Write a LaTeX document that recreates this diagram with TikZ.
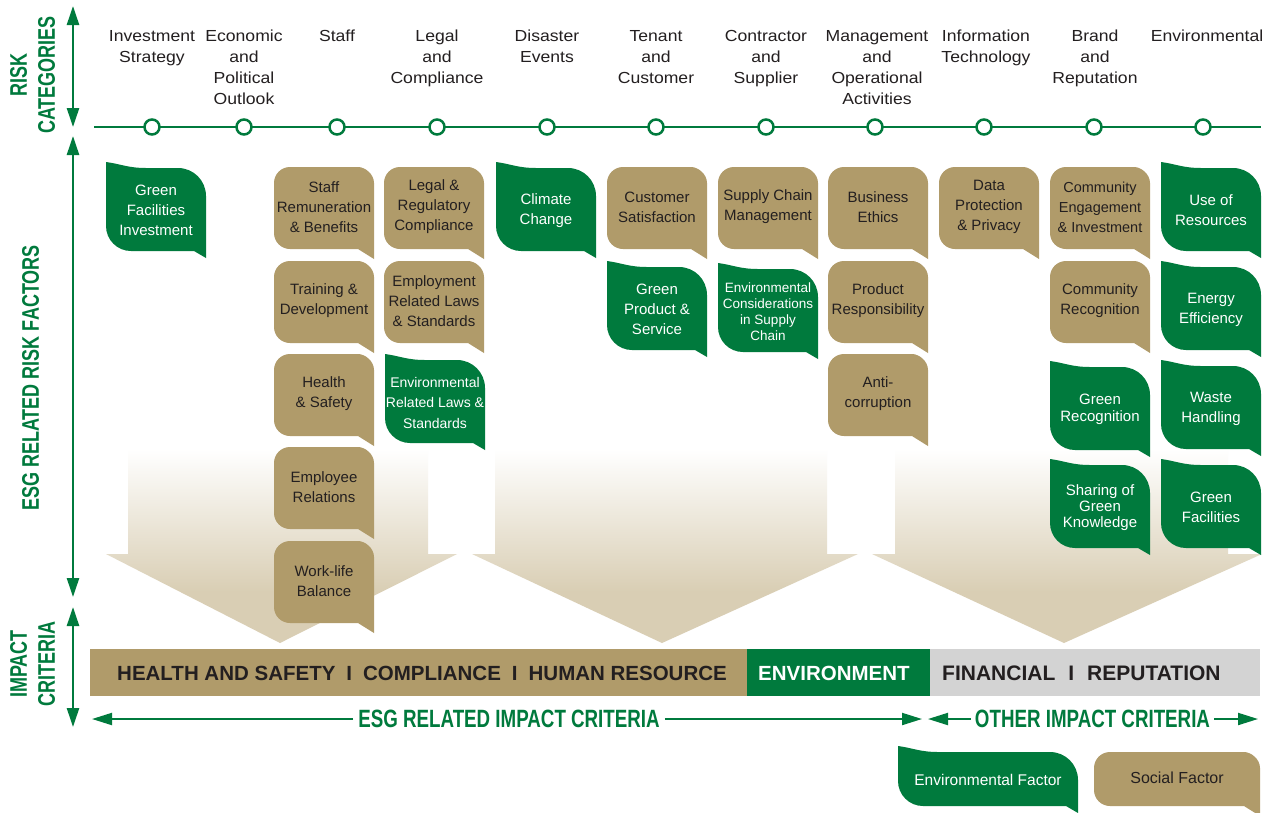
\documentclass[tikz,border=0pt]{standalone}
\usepackage{fontspec}
\setmainfont{Liberation Sans}
\newfontfamily\headfont{Liberation Sans}[FakeStretch=1.1]
\newfontfamily\condfont{Liberation Sans}[FakeStretch=0.75]
\usetikzlibrary{arrows.meta}
\definecolor{esggreen}{RGB}{0,122,61}
\definecolor{esggold}{RGB}{176,155,106}
\definecolor{esgbeige}{RGB}{217,206,180}
\definecolor{esggray}{RGB}{211,211,211}
\definecolor{esgdark}{RGB}{35,31,32}
\pgfdeclareverticalshading{beigefade}{100bp}{color(0bp)=(esgbeige); color(38bp)=(esgbeige); color(74bp)=(white); color(100bp)=(white)}
\newcommand{\esgsep}{\hspace{11pt}I\hspace{11pt}}
% gold speech-bubble: name, L, T, W, H, text style, text
\newcommand{\goldshape}[7]{%
  \fill[esggold] ({#2+#4},{#3+#5+10}) -- ({#2+#4},{#3+16})
    .. controls ({#2+#4},{#3+7.16}) and ({#2+#4-8.84},{#3}) .. ({#2+#4-16},{#3})
    -- ({#2+16},{#3}) .. controls ({#2+7.16},{#3}) and ({#2},{#3+7.16}) .. ({#2},{#3+16})
    -- ({#2},{#3+#5-16}) .. controls ({#2},{#3+#5-7.16}) and ({#2+7.16},{#3+#5}) .. ({#2+16},{#3+#5})
    -- ({#2+#4-16},{#3+#5}) -- cycle;
  \node[goldtext,#6] (#1) at ({#2+#4/2},{#3+#5/2-1}) {#7};
}
% green leaf: name, L, T, W, H, text style, text
\newcommand{\greenshape}[7]{%
  \fill[esggreen] ({#2},{#3}) .. controls ({#2+15},{#3+2}) and ({#2+22},{#3+6}) .. ({#2+40},{#3+6})
    -- ({#2+#4-28},{#3+6}) .. controls ({#2+#4-12.5},{#3+6}) and ({#2+#4},{#3+18.5}) .. ({#2+#4},{#3+34})
    -- ({#2+#4},{#3+#5+7}) -- ({#2+#4-12},{#3+#5})
    -- ({#2+25},{#3+#5}) .. controls ({#2+11.2},{#3+#5}) and ({#2},{#3+#5-11.2}) .. ({#2},{#3+#5-25})
    -- cycle;
  \node[greentext,#6] (#1) at ({#2+#4/2},{#3+(#5+6)/2+1}) {#7};
}
\tikzset{
  goldtext/.style={text=esgdark, font=\fontsize{15}{20}\selectfont, align=center, inner sep=0pt},
  greentext/.style={text=white, font=\fontsize{15}{20}\selectfont, align=center, inner sep=0pt},
  headtxt/.style={text=esgdark, font=\headfont\fontsize{16}{21}\selectfont, align=center, anchor=north, inner sep=0pt},
  catcircle/.style={circle, draw=esggreen, line width=2.5pt, fill=white, minimum size=15pt, inner sep=0pt},
  axisarrow/.style={draw=esggreen, line width=2.5pt, {Triangle[length=19pt,width=12pt]}-{Triangle[length=19pt,width=12pt]}},
  sidelabel/.style={text=esggreen, font=\condfont\bfseries\fontsize{24}{28}\selectfont, align=center, rotate=90, inner sep=0pt},
  critlabel/.style={text=esggreen, font=\condfont\bfseries\fontsize{25}{30}\selectfont, inner sep=0pt},
  critarrow/.style={draw=esggreen, line width=2pt, -{Triangle[length=20pt,width=12pt]}},
  barseg/.style={minimum height=47pt, inner sep=0pt, anchor=north west},
  bartext/.style={font=\bfseries\fontsize{20.5}{24}\selectfont, anchor=west, inner sep=0pt},
}
\begin{document}
\begin{tikzpicture}[x=1pt,y=-1pt]
\useasboundingbox (0,0) rectangle (1279,812);
\fill[white] (0,0) rectangle (1279,812);

% big background arrows
\shade[shading=beigefade] (128,445) -- (428,445) -- (428,554) -- (457,554) -- (280,643) -- (106,554) -- (128,554) -- cycle;
\shade[shading=beigefade] (495,445) -- (827,445) -- (827,554) -- (858,554) -- (662,643) -- (472,554) -- (495,554) -- cycle;
\shade[shading=beigefade] (895,445) -- (1228,445) -- (1228,554) -- (1262,554) -- (1064,643) -- (872,554) -- (895,554) -- cycle;

% side axes
\coordinate (a1t) at (73,6);   \coordinate (a1b) at (73,127);
\coordinate (a2t) at (73,136); \coordinate (a2b) at (73,597);
\coordinate (a3t) at (73,607); \coordinate (a3b) at (73,727);
\draw[axisarrow] (a1t) -- (a1b);
\draw[axisarrow] (a2t) -- (a2b);
\draw[axisarrow] (a3t) -- (a3b);
\node[sidelabel] (lblrisk) at (32.5,75) {RISK\\CATEGORIES};
\node[sidelabel] (lblesg) at (30.5,378) {ESG RELATED RISK FACTORS};
\node[sidelabel] (lblimp) at (32.5,664) {IMPACT\\CRITERIA};

% category line
\coordinate (tl0) at (94,127); \coordinate (tl1) at (1261,127);
\draw[esggreen, line width=2.5pt] (tl0) -- (tl1);
\foreach \n/\x in {1/152,2/244,3/337,4/437,5/547,6/656,7/766,8/875,9/984,10/1094,11/1203}
  \node[catcircle] (c\n) at (\x,127) {};

% headers
\node[headtxt] (h1) at (152,26.3) {\strut Investment\\Strategy};
\node[headtxt] (h2) at (244,26.3) {\strut Economic\\and\\Political\\Outlook};
\node[headtxt] (h3) at (337,26.3) {\strut Staff};
\node[headtxt] (h4) at (437,26.3) {\strut Legal\\and\\Compliance};
\node[headtxt] (h5) at (547,26.3) {\strut Disaster\\Events};
\node[headtxt] (h6) at (656,26.3) {\strut Tenant\\and\\Customer};
\node[headtxt] (h7) at (766,26.3) {\strut Contractor\\and\\Supplier};
\node[headtxt] (h8) at (877,26.3) {\strut Management\\and\\Operational\\Activities};
\node[headtxt] (h9) at (986,26.3) {\strut Information\\Technology};
\node[headtxt] (h10) at (1095,26.3) {\strut Brand\\and\\Reputation};
\node[headtxt] (h11) at (1207,26.3) {\strut Environmental};

% column 1
\greenshape{gfi}{106}{162}{100}{89}{}{Green\\Facilities\\Investment}
% column 3
\goldshape{srb}{274}{167}{100}{82}{}{Staff\\Remuneration\\\& Benefits}
\goldshape{trd}{274}{261}{100}{82}{}{Training \&\\Development}
\goldshape{hs}{274}{354}{100}{82}{}{Health\\\& Safety}
\goldshape{er}{274}{447}{100}{82}{}{Employee\\Relations}
\goldshape{wlb}{274}{541}{100}{82}{}{Work-life\\Balance}
% column 4
\goldshape{lrc}{384}{167}{100}{82}{}{Legal \&\\Regulatory\\Compliance}
\goldshape{erl}{384}{261}{100}{82}{}{Employment\\Related Laws\\\& Standards}
\greenshape{envl}{385}{354}{100}{89}{font=\fontsize{14}{20.5}\selectfont}{Environmental\\Related Laws \&\\Standards}
% column 5
\greenshape{cc}{496}{162}{100}{89}{}{Climate\\Change}
% column 6
\goldshape{cs}{607}{167}{100}{82}{}{Customer\\Satisfaction}
\greenshape{gps}{607}{261}{100}{89}{}{Green\\Product \&\\Service}
% column 7
\goldshape{scm}{718}{167}{100}{82}{}{Supply Chain\\Management}
\greenshape{ecs}{718}{263}{100}{89}{font=\fontsize{13.5}{16}\selectfont}{Environmental\\Considerations\\in Supply\\Chain}
% column 8
\goldshape{be}{828}{167}{100}{82}{}{Business\\Ethics}
\goldshape{pr}{828}{261}{100}{82}{}{Product\\Responsibility}
\goldshape{ac}{828}{354}{100}{82}{}{Anti-\\corruption}
% column 9
\goldshape{dpp}{939}{167}{100}{82}{}{Data\\Protection\\\& Privacy}
% column 10
\goldshape{cei}{1050}{167}{100}{82}{font=\fontsize{14.5}{20}\selectfont}{Community\\Engagement\\\& Investment}
\goldshape{cr}{1050}{261}{100}{82}{}{Community\\Recognition}
\greenshape{grc}{1050}{361}{100}{89}{font=\fontsize{15}{17}\selectfont}{Green\\Recognition}
\greenshape{sgk}{1050}{459}{100}{89}{font=\fontsize{15}{16}\selectfont}{Sharing of\\Green\\Knowledge}
% column 11
\greenshape{uor}{1161}{162}{100}{89}{}{Use of\\Resources}
\greenshape{ee}{1161}{261}{100}{89}{}{Energy\\Efficiency}
\greenshape{wh}{1161}{360}{100}{89}{}{Waste\\Handling}
\greenshape{gf}{1161}{459}{100}{89}{}{Green\\Facilities}

% impact bar
\node[barseg, fill=esggold, minimum width=657pt] (bar1) at (90,649) {};
\node[barseg, fill=esggreen, minimum width=183pt] (bar2) at (747,649) {};
\node[barseg, fill=esggray, minimum width=330pt] (bar3) at (930,649) {};
\node[bartext, text=esgdark] (bar1t) at (117,673) {HEALTH AND SAFETY\esgsep COMPLIANCE\esgsep HUMAN RESOURCE};
\node[bartext, text=white] (bar2t) at (758,673) {ENVIRONMENT};
\node[bartext, text=esgdark, font=\bfseries\fontsize{21}{24}\selectfont] (bar3t) at (942,673) {FINANCIAL\hspace{13pt}I\hspace{13pt}REPUTATION};

% criteria arrows
\node[critlabel] (esgtxt) at (509,719) {ESG RELATED IMPACT CRITERIA};
\node[critlabel] (othtxt) at (1092.5,719) {OTHER IMPACT CRITERIA};
\coordinate (esgL) at (92,719); \coordinate (esgR) at (922,719);
\coordinate (othL) at (928,719); \coordinate (othR) at (1258,719);
\draw[critarrow] ([xshift=-5pt]esgtxt.west) -- (esgL);
\draw[critarrow] ([xshift=5pt]esgtxt.east) -- (esgR);
\draw[critarrow] ([xshift=-4pt]othtxt.west) -- (othL);
\draw[critarrow] ([xshift=4pt]othtxt.east) -- (othR);

% legend
\greenshape{legenv}{898}{746}{180}{60}{font=\fontsize{15.5}{20}\selectfont}{Environmental Factor}
\goldshape{legsoc}{1094}{752}{166}{54}{font=\fontsize{16}{20}\selectfont}{Social Factor}
\end{tikzpicture}
\end{document}
